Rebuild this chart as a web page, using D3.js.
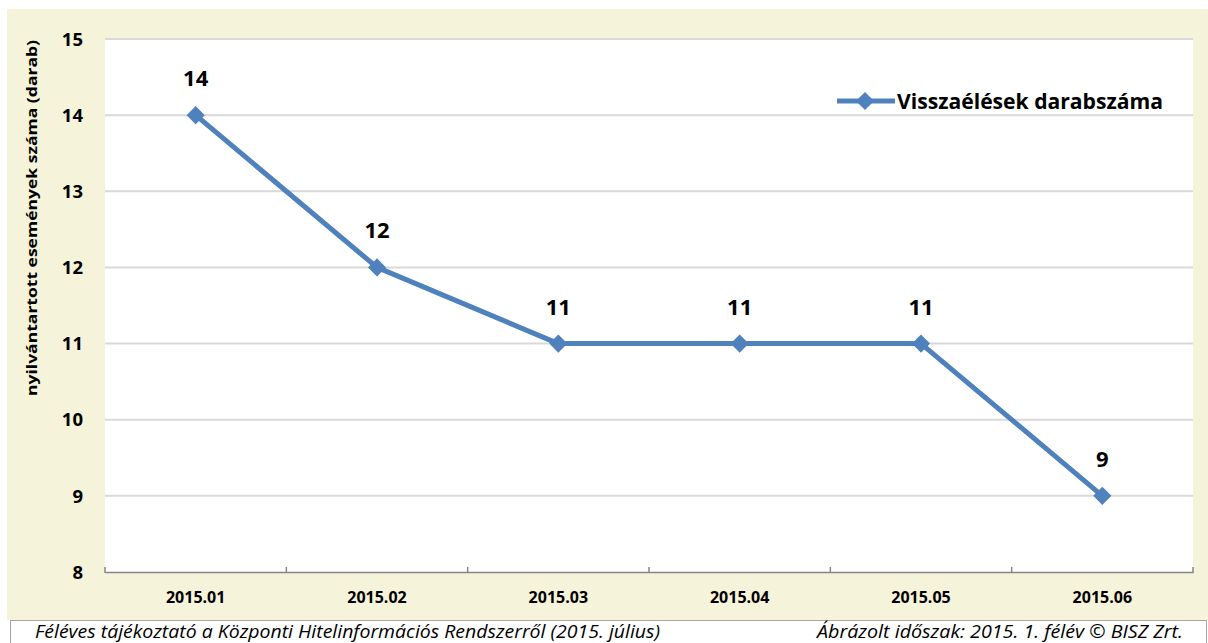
<!DOCTYPE html>
<html>
<head>
<meta charset="utf-8">
<script src="https://cdn.jsdelivr.net/npm/d3@7"></script>
<style>
  html, body { margin: 0; padding: 0; background: #ffffff; }
  svg { display: block; }
  text { font-family: "Open Sans", "Noto Sans", sans-serif; }
</style>
</head>
<body>
<svg id="chart" width="1208" height="643"></svg>
<script>
// Monthly counts of recorded abuse events, first half of 2015
const months = ["2015.01", "2015.02", "2015.03", "2015.04", "2015.05", "2015.06"];
const counts = [14, 12, 11, 11, 11, 9];
const yTicks = [8, 9, 10, 11, 12, 13, 14, 15];
const seriesName = "Visszaélések darabszáma";
const yTitle = "nyilvántartott események száma (darab)";
const footerLeft = "Féléves tájékoztató a Központi Hitelinformációs Rendszerről (2015. július)";
const footerRight = "Ábrázolt időszak: 2015. 1. félév © BISZ Zrt.";

const svg = d3.select("#chart");
const W = 1208, H = 643;
const plot = { left: 105, right: 1193, top: 39, bottom: 572 };
const blue = "#4F81BD";

// chart background panel
svg.append("rect").attr("x", 7).attr("y", 9).attr("width", W - 7).attr("height", 611)
  .attr("fill", "#F5F3DA");

// plot area
svg.append("rect").attr("x", plot.left).attr("y", plot.top)
  .attr("width", plot.right - plot.left).attr("height", plot.bottom - plot.top)
  .attr("fill", "#ffffff");

const x = d3.scaleBand().domain(months).range([plot.left, plot.right]).padding(0);
const y = d3.scaleLinear().domain([8, 15]).range([plot.bottom, plot.top]);

// horizontal gridlines
svg.append("g").selectAll("line").data(yTicks.filter(t => t > 8)).join("line")
  .attr("x1", plot.left).attr("x2", plot.right)
  .attr("y1", d => y(d)).attr("y2", d => y(d))
  .attr("stroke", "#D9D9D9").attr("stroke-width", 2);

// y axis tick labels
svg.append("g").selectAll("text").data(yTicks).join("text")
  .attr("x", 83).attr("y", d => y(d)).attr("dy", "0.36em")
  .attr("text-anchor", "end").attr("font-size", 18.5).attr("font-weight", "bold")
  .attr("fill", "#000").text(d => d);

// x axis line with category tick marks
const xAxis = d3.axisBottom(x).tickSize(0).tickFormat("");
svg.append("g").attr("transform", `translate(0,${plot.bottom})`).call(xAxis)
  .call(g => g.select(".domain").attr("stroke", "#868686").attr("stroke-width", 1.5));
const boundaries = months.map(m => x(m)).concat([x(months[months.length - 1]) + x.bandwidth()]);
svg.append("g").selectAll("line").data(boundaries).join("line")
  .attr("x1", d => d).attr("x2", d => d)
  .attr("y1", plot.bottom - 5).attr("y2", plot.bottom + 1)
  .attr("stroke", "#868686").attr("stroke-width", 1.5);

// x axis labels
svg.append("g").selectAll("text").data(months).join("text")
  .attr("x", d => x(d) + x.bandwidth() / 2).attr("y", 603)
  .attr("text-anchor", "middle").attr("font-size", 16).attr("font-weight", "bold")
  .attr("fill", "#000").text(d => d);

// y axis title
svg.append("text")
  .attr("transform", "translate(37,218) rotate(-90)")
  .attr("text-anchor", "middle").attr("font-size", 15).attr("font-weight", "bold")
  .attr("textLength", 356).attr("lengthAdjust", "spacingAndGlyphs")
  .attr("fill", "#000").text(yTitle);

// series line
const cx = d => x(d) + x.bandwidth() / 2;
const line = d3.line().x((d, i) => cx(months[i])).y(d => y(d));
svg.append("path").datum(counts).attr("d", line)
  .attr("fill", "none").attr("stroke", blue).attr("stroke-width", 5)
  .attr("stroke-linejoin", "round");

// diamond markers
const diamond = d3.symbol().type(d3.symbolDiamond2).size(210);
svg.append("g").selectAll("path").data(counts).join("path")
  .attr("transform", (d, i) => `translate(${cx(months[i])},${y(d)})`)
  .attr("d", diamond).attr("fill", blue);

// value labels
svg.append("g").selectAll("text").data(counts).join("text")
  .attr("x", (d, i) => cx(months[i])).attr("y", d => y(d) - 29)
  .attr("text-anchor", "middle").attr("font-size", 22).attr("font-weight", "bold")
  .attr("fill", "#000").text(d => d);

// legend
const lg = svg.append("g").attr("transform", "translate(837,101)");
lg.append("line").attr("x1", 0).attr("x2", 58).attr("y1", 0).attr("y2", 0)
  .attr("stroke", blue).attr("stroke-width", 5);
lg.append("path").attr("transform", "translate(28,0)").attr("d", diamond).attr("fill", blue);
lg.append("text").attr("x", 60).attr("y", 0).attr("dy", "0.36em")
  .attr("font-size", 21).attr("font-weight", "bold")
  .attr("textLength", 266).attr("lengthAdjust", "spacingAndGlyphs")
  .attr("fill", "#000").text(seriesName);

// footer box
svg.append("rect").attr("x", 10.5).attr("y", 620.5).attr("width", W - 12).attr("height", 30)
  .attr("fill", "#ffffff").attr("stroke", "#A6A6A6").attr("stroke-width", 1);
svg.append("text").attr("x", 35).attr("y", 638)
  .attr("font-size", 18).attr("font-style", "italic")
  .attr("textLength", 625).attr("lengthAdjust", "spacingAndGlyphs")
  .attr("fill", "#000").text(footerLeft);
svg.append("text").attr("x", 817).attr("y", 638)
  .attr("font-size", 18).attr("font-style", "italic")
  .attr("textLength", 366).attr("lengthAdjust", "spacingAndGlyphs")
  .attr("fill", "#000").text(footerRight);
</script>
</body>
</html>
